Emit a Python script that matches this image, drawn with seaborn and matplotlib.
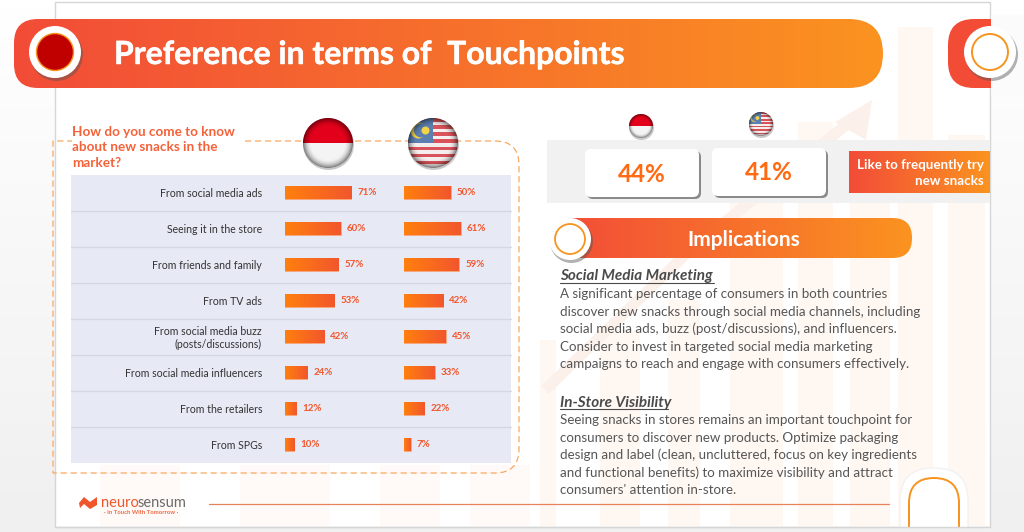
import numpy as np
import pandas as pd
import matplotlib.pyplot as plt
import matplotlib.patheffects as pe
import seaborn as sns
from matplotlib.patches import Circle, FancyBboxPatch, PathPatch, Polygon, Rectangle
from matplotlib.path import Path
from matplotlib.colors import LinearSegmentedColormap

sources = ['From social media ads', 'Seeing it in the store', 'From friends and family',
           'From TV ads', 'From social media buzz\n(posts/discussions)',
           'From social media influencers', 'From the retailers', 'From SPGs']
indonesia = [71, 60, 57, 53, 42, 24, 12, 10]
malaysia = [50, 61, 59, 42, 45, 33, 22, 7]
frequent_try = ['44%', '41%']

title = 'Preference in terms of  Touchpoints'
question = ['How do you come to know', 'about new snacks in the', 'market?']
social_head = 'Social Media Marketing'
social_lines = ['A significant percentage of consumers in both countries',
                'discover new snacks through social media channels, including',
                'social media ads, buzz (post/discussions), and influencers.',
                'Consider to invest in targeted social media marketing',
                'campaigns to reach and engage with consumers effectively.']
store_head = 'In-Store Visibility'
store_lines = ['Seeing snacks in stores remains an important touchpoint for',
               'consumers to discover new products. Optimize packaging',
               'design and label (clean, uncluttered, focus on key ingredients',
               "and functional benefits) to maximize visibility and attract",
               "consumers' attention in-store."]

BANNER = LinearSegmentedColormap.from_list('banner', ['#f24c38', '#fb9320'])
BAR = LinearSegmentedColormap.from_list('bar', ['#ff7f0e', '#f2572c'])
PAGE = LinearSegmentedColormap.from_list('page', ['#ffffff', '#f0f0f0'])
ORANGE = '#f7931e'
WASH = '#fef7f2'
W, H = 1024, 532
THICK = [pe.withStroke(linewidth=0.35, foreground='white')]

sns.set_theme(style='white')
plt.rcParams['font.family'] = ['Lato', 'DejaVu Sans']

fig = plt.figure(figsize=(W / 100, H / 100), dpi=100)
bg = fig.add_axes([0, 0, 1, 1])
bg.axis('off')


def rounded(x0, y0, x1, y1, rl, rr):
    verts = [(x0 + rl, y0), (x1 - rr, y0), (x1, y0), (x1, y0 + rr), (x1, y1 - rr), (x1, y1), (x1 - rr, y1),
             (x0 + rl, y1), (x0, y1), (x0, y1 - rl), (x0, y0 + rl), (x0, y0), (x0 + rl, y0)]
    codes = [Path.MOVETO, Path.LINETO, Path.CURVE3, Path.CURVE3, Path.LINETO, Path.CURVE3, Path.CURVE3,
             Path.LINETO, Path.CURVE3, Path.CURVE3, Path.LINETO, Path.CURVE3, Path.CURVE3]
    return Path(verts, codes)


def gradient_box(ax, x0, y0, x1, y1, cmap, rl=0.01, rr=0.01, z=3):
    box = PathPatch(rounded(x0, y0, x1, y1, rl, rr), fc='none', ec='none', zorder=z)
    ax.add_patch(box)
    im = ax.imshow(np.linspace(0, 1, 256).reshape(1, -1), cmap=cmap, aspect='auto',
                   extent=(x0, x1, y1, y0), zorder=z)
    im.set_clip_path(box)


def shadow_circle(ax, cx, cy, r, z=5):
    ax.add_patch(Circle((cx + 1.5, cy + 2.5), r + 0.5, fc='#555555', alpha=0.45, ec='none', zorder=z))
    ax.add_patch(Circle((cx, cy), r, fc='white', ec='none', zorder=z + 0.1))


def shade(ax, cx, cy, r, clip, z):
    g = np.linspace(-1, 1, 120)
    xx, yy = np.meshgrid(g, g)
    d = np.hypot(xx, yy)
    rgba = np.zeros((120, 120, 4))
    rgba[..., 3] = np.clip((d - 0.65) / 0.35, 0, 1) ** 2 * 0.5
    im = ax.imshow(rgba, extent=(cx - r, cx + r, cy + r, cy - r), aspect='auto', zorder=z)
    im.set_clip_path(clip)


def flag_id(ax, cx, cy, r, z=6):
    ax.add_patch(Circle((cx + 0.5, cy + 1.5), r + 0.5, fc='#777777', alpha=0.4, ec='none', zorder=z))
    disc = Circle((cx, cy), r, fc='#f4f4f4', ec='none', zorder=z + 0.1)
    ax.add_patch(disc)
    top = Rectangle((cx - r, cy - r), 2 * r, r, fc='#e2001a', ec='none', zorder=z + 0.2)
    ax.add_patch(top)
    top.set_clip_path(disc)
    shade(ax, cx, cy, r, disc, z + 0.3)


def flag_my(ax, cx, cy, r, z=6):
    ax.add_patch(Circle((cx + 0.5, cy + 1.5), r + 0.5, fc='#777777', alpha=0.4, ec='none', zorder=z))
    disc = Circle((cx, cy), r, fc='#f6eeee', ec='none', zorder=z + 0.1)
    ax.add_patch(disc)
    step = 2 * r / 14
    parts = [Rectangle((cx - r, cy - r + i * step), 2 * r, step, fc='#d9535a', ec='none', zorder=z + 0.2)
             for i in range(0, 14, 2)]
    parts.append(Rectangle((cx - r, cy - r), r, r, fc='#5b7fb0', ec='none', zorder=z + 0.3))
    parts.append(Circle((cx - 0.58 * r, cy - 0.5 * r), 0.32 * r, fc='#f3d34a', ec='none', zorder=z + 0.4))
    parts.append(Circle((cx - 0.48 * r, cy - 0.5 * r), 0.28 * r, fc='#5b7fb0', ec='none', zorder=z + 0.5))
    parts.append(Circle((cx - 0.3 * r, cy - 0.5 * r), 0.16 * r, fc='#f3d34a', ec='none', zorder=z + 0.6))
    for p in parts:
        ax.add_patch(p)
        p.set_clip_path(disc)
    shade(ax, cx, cy, r, disc, z + 0.7)


# page, slide, watermark
bg.imshow(np.linspace(0, 1, 64).reshape(-1, 1), cmap=PAGE, aspect='auto', extent=(0, W, H, 0), zorder=-1)
bg.add_patch(Rectangle((55, 2), 935, 525, fc='white', ec='#d6d6d6', lw=1, zorder=0))
for x0, x1, top in [(540, 556, 340), (600, 640, 330), (668, 700, 300), (730, 783, 190), (798, 833, 122),
                    (850, 890, 160), (898, 933, 27), (948, 985, 135)]:
    bg.add_patch(Rectangle((x0, top), x1 - x0, 526 - top, fc=WASH, ec='none', zorder=0.5))
for x0, x1 in [(100, 180), (240, 330), (380, 440), (470, 530)]:
    bg.add_patch(Rectangle((x0, 465), x1 - x0, 61, fc='#fffaf7', ec='none', zorder=0.5))
bg.plot([545, 690, 855], [390, 250, 118], color='#fcf1ea', lw=8, zorder=0.6, solid_capstyle='butt')
bg.add_patch(Polygon([(835, 122), (872, 100), (866, 140)], fc='#fcf1ea', ec='none', zorder=0.6))

# header banners
gradient_box(bg, 14, 19, 883, 88, BANNER, rl=24, rr=34.5)
bg.add_patch(PathPatch(rounded(948, 19, 1040, 88, 26, 0.01), fc='#f34c36', ec='none', zorder=3))
bg.add_patch(Rectangle((990.5, 15), 34, 80, fc='#fbfbfb', ec='none', zorder=3.5))
shadow_circle(bg, 55, 52, 26)
bg.add_patch(Circle((55, 52), 18.5, fc='#c00000', ec='#f7931e', lw=1, zorder=5.5))
shadow_circle(bg, 990, 52, 26)
bg.add_patch(Circle((990, 52), 18, fc='none', ec=ORANGE, lw=1.4, zorder=5.5))
bg.text(114, 54.5, title, color='white', fontsize=23, fontweight='bold', va='center', ha='left', zorder=6,
        path_effects=THICK)

# question panel
bg.add_patch(Rectangle((71, 175), 440, 288, fc='#e7e9f5', ec='none', zorder=1))
for i in range(1, 8):
    bg.plot([71, 511], [175 + 36 * i] * 2, color='#d5d8e2', lw=0.9, zorder=1.1)
dash = Path([(245, 141), (495, 141), (519, 141), (519, 165), (519, 449), (519, 473), (495, 473),
             (53, 473), (53, 141), (72, 141)],
            [Path.MOVETO, Path.LINETO, Path.CURVE3, Path.CURVE3, Path.LINETO, Path.CURVE3, Path.CURVE3,
             Path.LINETO, Path.LINETO, Path.LINETO])
bg.add_patch(PathPatch(dash, fc='none', ec='#f9a860', lw=0.9, ls=(0, (5, 3)), zorder=2))
for i, line in enumerate(question):
    bg.text(72, 132 + i * 15.4, line, color='#f4623a', fontsize=9.7, fontweight='bold', va='center', zorder=4)
flag_id(bg, 328, 143, 25)
flag_my(bg, 433, 143, 25)

# like to try
flag_id(bg, 641, 126, 12)
flag_my(bg, 761, 124, 12)
bg.add_patch(Rectangle((547, 140), 443, 63, fc='#f1f1f1', ec='none', zorder=1))
for x0, y0, val in zip([585, 712], [149, 148], frequent_try):
    bg.add_patch(FancyBboxPatch((x0 + 8, y0 + 8), 102, 36, boxstyle='round,pad=6,rounding_size=6',
                                fc='#8a8a8a', ec='none', zorder=1.5))
    bg.add_patch(FancyBboxPatch((x0 + 6, y0 + 6), 102, 36, boxstyle='round,pad=6,rounding_size=6',
                                fc='white', ec='none', zorder=2))
    bg.text(x0 + 57, y0 + 25, val, color='#ff6a13', fontsize=17.5, fontweight='bold', ha='center', va='center', zorder=3)
gradient_box(bg, 849, 151, 990, 193, BANNER)
bg.text(984, 165, 'Like to frequently try', color='white', fontsize=9.6, fontweight='bold', ha='right', va='center', zorder=4)
bg.text(984, 181, 'new snacks', color='white', fontsize=9.6, fontweight='bold', ha='right', va='center', zorder=4)

# implications
gradient_box(bg, 556, 218, 912, 258, BANNER, rl=19.5, rr=19.5)
shadow_circle(bg, 570, 239, 21)
bg.add_patch(Circle((570, 239), 15, fc='none', ec=ORANGE, lw=1.3, zorder=5.5))
bg.text(744, 240.5, 'Implications', color='white', fontsize=15, fontweight='bold', ha='center', va='center', zorder=6)

TXT = '#565656'
bg.text(560, 276, social_head, color='#4a4a4a', fontsize=11, fontweight='bold', style='italic', va='center', zorder=4)
bg.plot([560, 714], [282.5, 282.5], color='#4a4a4a', lw=0.8, zorder=4)
for i, line in enumerate(social_lines):
    bg.text(560, 294.5 + i * 17.35, line, color=TXT, fontsize=9.6, va='center', zorder=4)
bg.text(560, 402.5, store_head, color='#4a4a4a', fontsize=11, fontweight='bold', style='italic', va='center', zorder=4)
bg.plot([560, 668], [409, 409], color='#4a4a4a', lw=0.8, zorder=4)
for i, line in enumerate(store_lines):
    bg.text(560, 420.5 + i * 17.35, line, color=TXT, fontsize=9.6, va='center', zorder=4)

# footer
bg.plot([209, 889], [503.5, 503.5], color='#e8825a', lw=0.9, zorder=2)
bg.add_patch(PathPatch(rounded(900, 468, 968, 600, 33, 33), fc='white', ec='#f2f2f2', lw=1, zorder=2))
bg.add_patch(PathPatch(rounded(909, 478, 959, 600, 25, 25), fc='white', ec=ORANGE, lw=1.4, zorder=2.1))
bg.add_patch(Rectangle((880, 527.5), 120, 10, fc='#f0f0f0', ec='none', zorder=2.2))
bg.plot([55, 990], [527, 527], color='#d6d6d6', lw=1, zorder=2.3)
bg.add_patch(Polygon([(79, 503), (84, 497), (90, 502), (97, 497), (97, 505), (90, 509), (84, 504), (80, 508)],
                     fc='#f0562c', ec='none', zorder=3))
bg.text(101, 503, 'neuro', color='#f0562c', fontsize=10.5, va='center', zorder=3)
bg.text(138, 503, 'sensum', color='#6b6b6b', fontsize=10.5, va='center', zorder=3)
bg.text(141, 512, '· In Touch With Tomorrow ·', color='#ee6a45', fontsize=4.3, fontweight='bold',
        ha='center', va='center', zorder=3)

bg.set_xlim(0, W)
bg.set_ylim(H, 0)

# bars
df = pd.DataFrame({'source': sources, 'Indonesia': indonesia, 'Malaysia': malaysia})


def bar_axes(left, col, show_labels):
    ax = fig.add_axes([left / W, 1 - 462.5 / H, 93 / W, 288 / H])
    ax.patch.set_alpha(0)
    sns.barplot(data=df, y='source', x=col, color=BAR(0.5), width=0.38, ax=ax, orient='h', saturation=1)
    for p in ax.patches:
        p.set_edgecolor('#f9a77c')
        p.set_linewidth(0.6)
        x0, y0, w, h = p.get_x(), p.get_y(), p.get_width(), p.get_height()
        im = ax.imshow(np.linspace(0, 1, 64).reshape(1, -1), cmap=BAR, aspect='auto',
                       extent=(x0, x0 + w, y0 + h, y0), zorder=3)
        im.set_clip_path(p)
    ax.bar_label(ax.containers[0], fmt='%d%%', padding=4.5, color='#f2552a', fontsize=7, fontweight='bold')
    ax.set_xlim(0, 100)
    ax.set_ylim(7.5, -0.5)
    ax.set_xlabel('')
    ax.set_ylabel('')
    ax.set_xticks([])
    ax.tick_params(axis='y', length=0, pad=16.5, labelsize=7.6, labelcolor='#333333', labelleft=show_labels)
    sns.despine(ax=ax, left=True, bottom=True)
    return ax


bar_axes(285, 'Indonesia', True)
bar_axes(404, 'Malaysia', False)

fig.savefig('out.png', dpi=100)
